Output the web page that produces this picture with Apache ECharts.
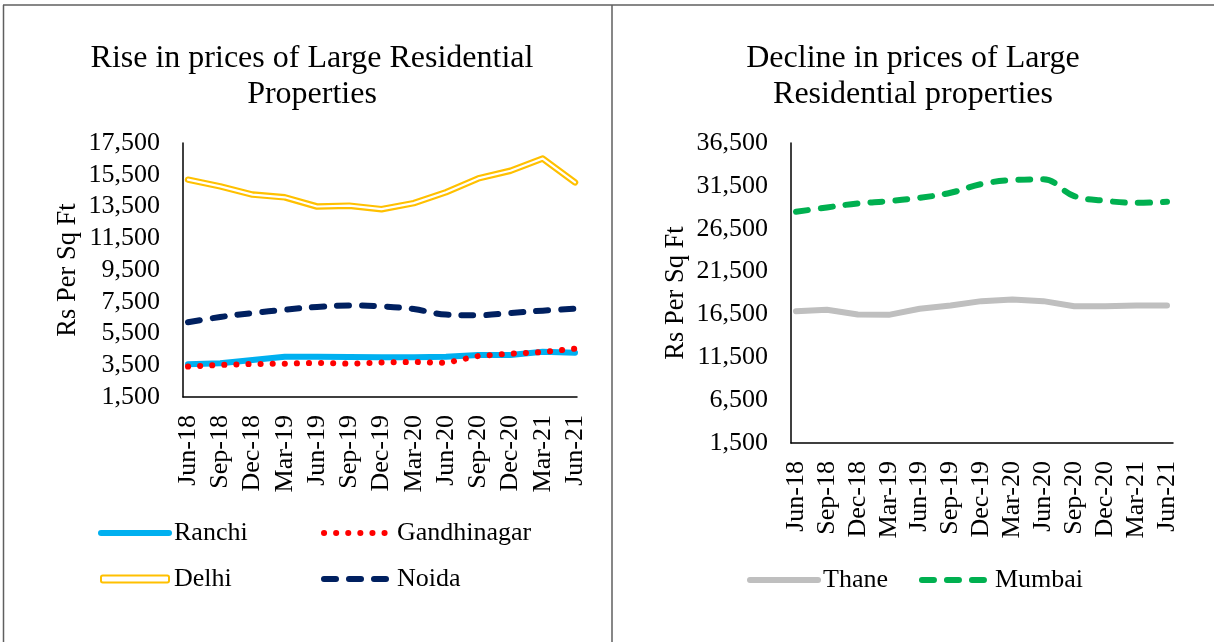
<!DOCTYPE html>
<html>
<head>
<meta charset="utf-8">
<title>Large Residential Property Prices</title>
<script src="https://cdn.jsdelivr.net/npm/echarts@6/dist/echarts.min.js"></script>
<style>
  html, body { margin: 0; padding: 0; background: #fff; }
  #chart { width: 1214px; height: 642px; }
</style>
</head>
<body>
<div id="chart"></div>
<script>
// Quarterly price series, Rs per sq ft
const categories = ['Jun-18', 'Sep-18', 'Dec-18', 'Mar-19', 'Jun-19', 'Sep-19', 'Dec-19',
                    'Mar-20', 'Jun-20', 'Sep-20', 'Dec-20', 'Mar-21', 'Jun-21'];

const ranchi      = [3560, 3620, 3830, 4040, 4040, 4020, 4000, 4000, 4040, 4150, 4150, 4350, 4290];
const gandhinagar = [3420, 3520, 3580, 3600, 3650, 3600, 3670, 3710, 3650, 4080, 4230, 4330, 4540];
const delhi       = [15190, 14770, 14250, 14080, 13500, 13550, 13330, 13710, 14400, 15270, 15750, 16520, 15020];
const noida       = [6210, 6540, 6790, 7000, 7170, 7270, 7210, 7040, 6690, 6650, 6790, 6940, 7060];

const thane  = [16880, 17040, 16490, 16450, 17160, 17540, 18050, 18250, 18050, 17460, 17460, 17540, 17540];
const mumbai = [28470, 28980, 29450, 29720, 30110, 30690, 31710, 32180, 32260, 30310, 29760, 29520, 29640];

const leftTicks  = [1500, 3500, 5500, 7500, 9500, 11500, 13500, 15500, 17500];
const rightTicks = [1500, 6500, 11500, 16500, 21500, 26500, 31500, 36500];

const FONT = "'Liberation Serif', 'Times New Roman', serif";
const fmt = v => Number(v).toLocaleString('en-US');

// Line styles shared by the plotted series and their legend keys
const styles = {
  Ranchi:      { color: '#00B0F0', width: 6 },
  Gandhinagar: { color: '#FF0000', width: 6, type: [0.1, 12] },
  DelhiOuter:  { color: '#FFC000', width: 6.5 },
  DelhiInner:  { color: '#FFFFFF', width: 2.2 },
  Noida:       { color: '#002060', width: 6, type: [12, 13] },
  Thane:       { color: '#BFBFBF', width: 6 },
  Mumbai:      { color: '#00B050', width: 6, type: [12, 13] }
};

const chart = echarts.init(document.getElementById('chart'), null, { renderer: 'canvas' });

// Frame axes carry the axis lines, tick labels and axis name;
// data axes carry the category labels and the series.
function frameAxes(gridIndex, ticks) {
  return {
    x: {
      type: 'value', gridIndex, min: 0, max: 1,
      axisLine: { show: true, onZero: false, lineStyle: { color: '#000', width: 1.5 } },
      axisTick: { show: false }, axisLabel: { show: false }, splitLine: { show: false }
    },
    y: {
      type: 'value', gridIndex, min: ticks[0], max: ticks[ticks.length - 1],
      name: 'Rs Per Sq Ft', nameLocation: 'middle', nameGap: 101,
      nameTextStyle: { fontFamily: FONT, fontSize: 26.5, color: '#000' },
      axisLine: { show: true, onZero: false, lineStyle: { color: '#000', width: 1.5 } },
      axisTick: { show: false }, splitLine: { show: false },
      axisLabel: {
        customValues: ticks, formatter: fmt, margin: 23,
        fontFamily: FONT, fontSize: 26, color: '#000'
      }
    }
  };
}

function dataAxes(gridIndex, ticks) {
  return {
    x: {
      type: 'category', gridIndex, data: categories, boundaryGap: false,
      axisLine: { show: false }, axisTick: { show: false }, splitLine: { show: false },
      axisLabel: { rotate: 90, margin: 18, interval: 0, fontFamily: FONT, fontSize: 26, color: '#000' }
    },
    y: {
      type: 'value', gridIndex, min: ticks[0], max: ticks[ticks.length - 1], show: false,
      splitLine: { show: false }
    }
  };
}

const lf = frameAxes(0, leftTicks), ld = dataAxes(1, leftTicks);
const rf = frameAxes(2, rightTicks), rd = dataAxes(3, rightTicks);

function line(name, data, axis, style, extra) {
  return Object.assign({
    name, type: 'line', data, xAxisIndex: axis, yAxisIndex: axis,
    symbol: 'none', silent: true, animation: false,
    lineStyle: Object.assign({ cap: 'round', join: 'round' }, style)
  }, extra || {});
}

function key(name, style) {
  return { name, lineStyle: Object.assign({ cap: 'round', join: 'round' }, style) };
}

const legendText = { fontFamily: FONT, fontSize: 26, color: '#000', lineHeight: 30 };
const legendBase = {
  itemWidth: 68, itemHeight: 7, padding: 0, selectedMode: false,
  textStyle: legendText, itemStyle: { opacity: 0 }
};

const option = {
  backgroundColor: '#fff',
  animation: false,
  title: [
    {
      text: 'Rise in prices of Large Residential\nProperties',
      left: 307, top: 36, textAlign: 'center',
      textStyle: { fontFamily: FONT, fontSize: 32, fontWeight: 'normal', color: '#000', lineHeight: 36 }
    },
    {
      text: 'Decline in prices of Large\nResidential properties',
      left: 908, top: 36, textAlign: 'center',
      textStyle: { fontFamily: FONT, fontSize: 32, fontWeight: 'normal', color: '#000', lineHeight: 36 }
    }
  ],
  grid: [
    { left: 183, top: 143, width: 394, height: 254 },
    { left: 188, top: 143, width: 387, height: 254 },
    { left: 791, top: 143, width: 382, height: 300 },
    { left: 796, top: 143, width: 371, height: 300 }
  ],
  xAxis: [lf.x, ld.x, rf.x, rd.x],
  yAxis: [lf.y, ld.y, rf.y, rd.y],
  legend: [
    Object.assign({}, legendBase, {
      orient: 'vertical', left: 98, top: 518, itemGap: 16,
      data: [
        key('Ranchi', styles.Ranchi),
        { name: 'Delhi', icon: 'roundRect',
          itemStyle: { opacity: 1, color: '#fff', borderColor: '#FFC000', borderWidth: 2 } }
      ]
    }),
    Object.assign({}, legendBase, {
      orient: 'vertical', left: 321, top: 518, itemGap: 16,
      data: [key('Gandhinagar', styles.Gandhinagar), key('Noida', styles.Noida)]
    }),
    Object.assign({}, legendBase, {
      orient: 'horizontal', left: 747, top: 565, itemGap: 31,
      data: [key('Thane', styles.Thane), key('Mumbai', styles.Mumbai)]
    })
  ],
  series: [
    line('Delhi', delhi, 1, styles.DelhiOuter),
    line('Delhi', delhi, 1, styles.DelhiInner),
    line('Noida', noida, 1, styles.Noida, { smooth: 0.4 }),
    line('Ranchi', ranchi, 1, styles.Ranchi),
    line('Gandhinagar', gandhinagar, 1, styles.Gandhinagar),
    line('Thane', thane, 3, styles.Thane),
    line('Mumbai', mumbai, 3, styles.Mumbai, { smooth: 0.4 })
  ],
  graphic: [
    { type: 'line', shape: { x1: 3, y1: 5, x2: 1214, y2: 5 }, style: { stroke: '#5f5f5f', lineWidth: 1.5 }, silent: true },
    { type: 'line', shape: { x1: 3.5, y1: 5, x2: 3.5, y2: 642 }, style: { stroke: '#5f5f5f', lineWidth: 1.5 }, silent: true },
    { type: 'line', shape: { x1: 612, y1: 5, x2: 612, y2: 642 }, style: { stroke: '#5f5f5f', lineWidth: 1.5 }, silent: true }
  ]
};

chart.setOption(option);
</script>
</body>
</html>
